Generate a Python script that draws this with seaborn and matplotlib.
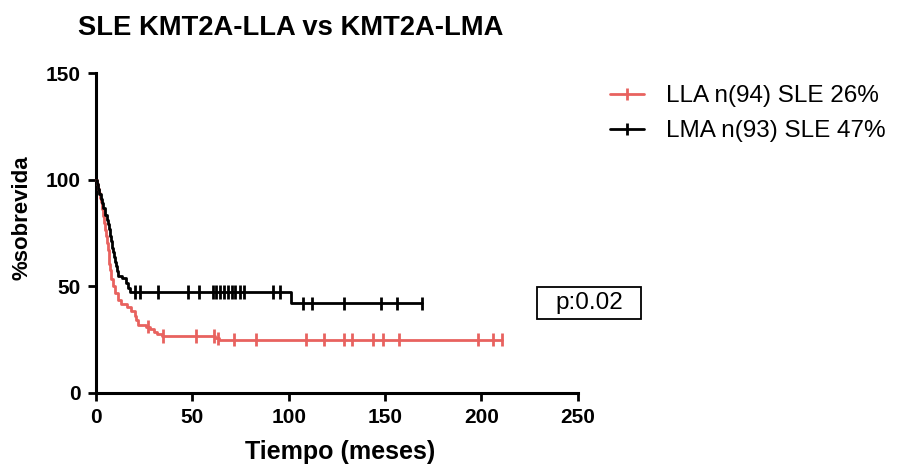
import numpy as np
import pandas as pd
import matplotlib
matplotlib.use("Agg")
import matplotlib.pyplot as plt
from matplotlib.lines import Line2D
from matplotlib.patches import Rectangle
import seaborn as sns

# Kaplan-Meier step curves (months, % event-free survival)
lla_times = [0, 0.5, 1, 1.5, 2, 2.5, 3, 3.5, 4, 4.5, 5, 5.5, 6, 6.5, 7, 7.5, 8, 9, 10,
             11.4, 13, 16, 18, 20, 21, 22, 26, 28, 30, 31.5, 34, 62, 64]
lla_surv = [100, 97.9, 95.7, 93.6, 91.5, 89.4, 86.2, 83.0, 79.8, 76.6, 73.4, 70.2, 67.0,
            63.8, 60.6, 57.4, 53.2, 50.0, 46.8, 43.6, 41.5, 40.4, 38.3, 36.2, 34.0, 31.9,
            30.9, 29.8, 28.7, 27.7, 26.6, 25.5, 24.9]
lla_censored = [27, 35, 52, 61, 63.5, 71.5, 83, 108.8, 118.3, 128.7, 132.7, 143.8,
                148.8, 157, 198, 206, 210.6]
lla_end = 210.6

lma_times = [0, 0.3, 0.7, 1.2, 1.8, 2.5, 3.2, 3.8, 4.5, 5.5, 6.2, 6.8, 7.3, 7.8, 8.3,
             8.8, 9.3, 9.8, 10.3, 10.8, 11.6, 13.5, 15.5, 16.5, 17.6, 101]
lma_surv = [100, 98.9, 97.8, 95.6, 93.4, 91.2, 89.0, 86.8, 83.5, 81.3, 79.1, 76.9, 73.6,
            71.4, 68.1, 65.9, 63.7, 61.5, 59.3, 57.1, 54.9, 53.8, 51.6, 49.4, 47.3, 42.0]
lma_censored = [20.5, 23, 32.4, 47.5, 53.5, 60.7, 62.3, 64.4, 66.4, 68.5, 70.6, 72.1,
                74.7, 76.8, 92, 95.5, 107.5, 112, 128.7, 147.7, 156, 169]
lma_end = 169

groups = ["LLA n(94) SLE 26%", "LMA n(93) SLE 47%"]
colors = ["#E8625F", "#000000"]
title = "SLE KMT2A-LLA vs KMT2A-LMA"
p_text = "p:0.02"


def curve_frame(name, times, surv, end):
    t = list(times) + [end]
    s = list(surv) + [surv[-1]]
    return pd.DataFrame({"mes": t, "sobrevida": s, "grupo": name})


def censor_frame(name, times, surv, cens):
    t = np.asarray(times)
    s = np.asarray(surv)
    idx = np.searchsorted(t, np.asarray(cens), side="right") - 1
    return pd.DataFrame({"mes": cens, "sobrevida": s[idx], "grupo": name})


curves = pd.concat([
    curve_frame(groups[0], lla_times, lla_surv, lla_end),
    curve_frame(groups[1], lma_times, lma_surv, lma_end),
], ignore_index=True)
marks = pd.concat([
    censor_frame(groups[0], lla_times, lla_surv, lla_censored),
    censor_frame(groups[1], lma_times, lma_surv, lma_censored),
], ignore_index=True)

sns.set_theme(style="ticks")
plt.rcParams["font.family"] = ["Liberation Sans", "DejaVu Sans"]
plt.rcParams.update({
    "text.color": "black",
    "axes.labelcolor": "black",
    "axes.edgecolor": "black",
    "xtick.color": "black",
    "ytick.color": "black",
})

fig = plt.figure(figsize=(9.13, 4.69), dpi=100)
W, H = 913, 469
ax = fig.add_axes([96 / W, (H - 392.7) / H, (577.7 - 96) / W, (392.7 - 73.3) / H])

palette = dict(zip(groups, colors))
sns.lineplot(data=curves, x="mes", y="sobrevida", hue="grupo", palette=palette,
             drawstyle="steps-post", estimator=None, sort=False, linewidth=2.0,
             legend=False, ax=ax, clip_on=False, zorder=3)
sns.scatterplot(data=marks, x="mes", y="sobrevida", hue="grupo", palette=palette,
                marker="|", s=90, linewidth=2.0, legend=False, ax=ax,
                clip_on=False, zorder=4)

ax.set_xlim(0, 250)
ax.set_ylim(0, 150)
ax.set_xticks([0, 50, 100, 150, 200, 250])
ax.set_yticks([0, 50, 100, 150])
sns.despine(ax=ax)
for side in ("left", "bottom"):
    ax.spines[side].set_linewidth(2.2)
ax.tick_params(axis="both", length=6, width=2.0, pad=5, labelsize=15)
for lab in ax.get_xticklabels() + ax.get_yticklabels():
    lab.set_fontweight("bold")

ax.set_xlabel("Tiempo (meses)", fontsize=18, fontweight="bold")
ax.set_ylabel("%sobrevida", fontsize=16, fontweight="bold")
ax.xaxis.set_label_coords((340 - 96) / 481.7, -(452 - 392.7) / 319.4)
ax.xaxis.label.set_va("center")
ax.yaxis.set_label_coords((22 - 96) / 481.7, (392.7 - 218) / 319.4)
ax.yaxis.label.set_va("center")

fig.text(291 / W, 1 - 28 / H, title, ha="center", va="center",
         fontsize=19.7, fontweight="bold")

handles = [Line2D([], [], color=c, linewidth=2.0, marker="|", markersize=9,
                  markeredgewidth=2.0) for c in colors]
fig.legend(handles, groups, loc="upper left", bbox_to_anchor=(610 / W, 1 - 85 / H),
           frameon=False, fontsize=17.5, handlelength=1.4, handletextpad=0.9,
           labelspacing=0.55, borderpad=0, borderaxespad=0, markerfirst=True)

fig.patches.append(Rectangle((537 / W, 1 - 319 / H), (641 - 537) / W, (319 - 287) / H,
                             transform=fig.transFigure, fill=False,
                             edgecolor="black", linewidth=1.3))
fig.text(589 / W, 1 - 303 / H, p_text, ha="center", va="center", fontsize=17.5)

fig.savefig("out.png", dpi=100)
